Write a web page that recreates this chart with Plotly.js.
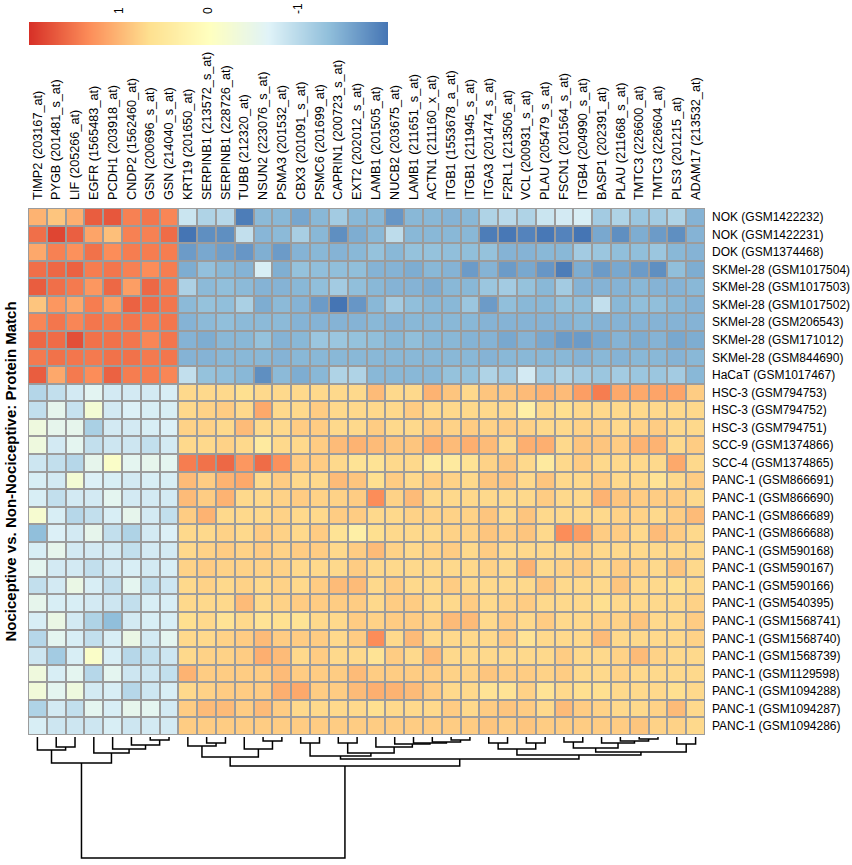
<!DOCTYPE html>
<html><head><meta charset="utf-8">
<script src="https://cdn.plot.ly/plotly-3.0.1.min.js"></script>
<style>html,body{margin:0;padding:0;background:#fff}</style>
</head><body>
<div id="chart" style="width:852px;height:865px"></div>
<script>
// ---- column labels (genes / probes) ----
const genes = ['TIMP2 (203167_at)','PYGB (201481_s_at)','LIF (205266_at)','EGFR (1565483_at)','PCDH1 (203918_at)','CNDP2 (1562460_at)','GSN (200696_s_at)','GSN (214040_s_at)','KRT19 (201650_at)','SERPINB1 (213572_s_at)','SERPINB1 (228726_at)','TUBB (212320_at)','NSUN2 (223076_s_at)','PSMA3 (201532_at)','CBX3 (201091_s_at)','PSMC6 (201699_at)','CAPRIN1 (200723_s_at)','EXT2 (202012_s_at)','LAMB1 (201505_at)','NUCB2 (203675_at)','LAMB1 (211651_s_at)','ACTN1 (211160_x_at)','ITGB1 (1553678_a_at)','ITGB1 (211945_s_at)','ITGA3 (201474_s_at)','F2RL1 (213506_at)','VCL (200931_s_at)','PLAU (205479_s_at)','FSCN1 (201564_s_at)','ITGB4 (204990_s_at)','BASP1 (202391_at)','PLAU (211668_s_at)','TMTC3 (226600_at)','TMTC3 (226604_at)','PLS3 (201215_at)','ADAM17 (213532_at)'];

// ---- row labels (samples) ----
const samples = ['NOK (GSM1422232)','NOK (GSM1422231)','DOK (GSM1374468)','SKMel-28 (GSM1017504)','SKMel-28 (GSM1017503)','SKMel-28 (GSM1017502)','SKMel-28 (GSM206543)','SKMel-28 (GSM171012)','SKMel-28 (GSM844690)','HaCaT (GSM1017467)','HSC-3 (GSM794753)','HSC-3 (GSM794752)','HSC-3 (GSM794751)','SCC-9 (GSM1374866)','SCC-4 (GSM1374865)','PANC-1 (GSM866691)','PANC-1 (GSM866690)','PANC-1 (GSM866689)','PANC-1 (GSM866688)','PANC-1 (GSM590168)','PANC-1 (GSM590167)','PANC-1 (GSM590166)','PANC-1 (GSM540395)','PANC-1 (GSM1568741)','PANC-1 (GSM1568740)','PANC-1 (GSM1568739)','PANC-1 (GSM1129598)','PANC-1 (GSM1094288)','PANC-1 (GSM1094287)','PANC-1 (GSM1094286)'];

// ---- values per sample (one row each, in gene order) ----
const NOK_GSM1422232 = [1.03,0.88,1.06,1.68,1.72,1.42,1.5,1.38,-0.85,-1.08,-1.02,-1.93,-1.38,-1.4,-1.56,-1.4,-1.18,-1.4,-1.4,-1.7,-1.4,-1.4,-1.44,-1.4,-1.08,-1.0,-1.08,-0.85,-0.78,-0.73,-1.18,-1.08,-1.25,-1.18,-1.08,-1.44];
const NOK_GSM1422231 = [1.55,1.85,1.66,1.15,0.93,1.42,1.42,1.57,-2.0,-1.77,-1.77,-0.92,-1.41,-1.38,-1.14,-1.4,-1.77,-1.5,-1.4,-0.96,-1.4,-1.4,-1.4,-1.4,-1.93,-1.97,-1.87,-1.97,-1.87,-2.0,-1.54,-1.77,-1.5,-1.66,-1.77,-1.44];
const DOK_GSM1374468 = [1.12,1.42,1.3,1.53,1.33,1.45,1.45,1.45,-1.66,-1.54,-1.62,-1.7,-1.48,-1.66,-1.44,-1.4,-1.44,-1.4,-1.3,-1.4,-1.3,-1.3,-1.33,-1.33,-1.3,-1.44,-1.44,-1.4,-1.4,-1.18,-1.25,-1.33,-1.33,-1.25,-1.4,-1.44];
const SKMel28_GSM1017504 = [1.55,1.6,1.64,1.45,1.5,1.42,1.33,1.45,-1.5,-1.32,-1.4,-1.44,-0.73,-1.48,-1.3,-1.33,-1.33,-1.33,-1.44,-1.44,-1.5,-1.4,-1.44,-1.66,-1.44,-1.66,-1.54,-1.7,-1.93,-1.5,-1.66,-1.54,-1.66,-1.77,-1.33,-1.5];
const SKMel28_GSM1017503 = [1.68,1.55,1.47,1.25,1.6,1.2,1.6,1.47,-1.1,-1.38,-1.33,-1.38,-1.44,-1.44,-1.4,-1.33,-1.18,-1.33,-1.4,-1.44,-1.44,-1.5,-1.4,-1.4,-1.25,-1.18,-1.3,-1.4,-1.18,-1.44,-1.44,-1.44,-1.4,-1.44,-1.44,-1.4];
const SKMel28_GSM1017502 = [0.88,1.25,1.12,1.45,1.2,1.64,1.57,1.5,-1.38,-1.3,-1.33,-1.12,-1.5,-1.38,-1.44,-1.66,-2.0,-1.7,-1.4,-1.18,-1.33,-1.4,-1.4,-1.25,-1.66,-1.33,-1.4,-1.4,-1.3,-1.33,-0.92,-1.4,-1.33,-1.33,-1.4,-1.44];
const SKMel28_GSM206543 = [1.38,1.5,1.38,1.5,1.47,1.5,1.45,1.5,-1.44,-1.38,-1.33,-1.38,-1.38,-1.38,-1.44,-1.44,-1.44,-1.44,-1.4,-1.44,-1.4,-1.4,-1.4,-1.4,-1.44,-1.44,-1.44,-1.44,-1.44,-1.4,-1.44,-1.44,-1.44,-1.44,-1.44,-1.44];
const SKMel28_GSM171012 = [1.6,1.57,1.78,1.53,1.53,1.5,1.38,1.5,-1.44,-1.5,-1.4,-1.4,-1.3,-1.44,-1.4,-1.25,-1.25,-1.3,-1.33,-1.4,-1.33,-1.4,-1.4,-1.44,-1.44,-1.54,-1.44,-1.54,-1.66,-1.66,-1.54,-1.44,-1.5,-1.44,-1.54,-1.5];
const SKMel28_GSM844690 = [1.47,1.53,1.5,1.47,1.53,1.53,1.47,1.5,-1.44,-1.44,-1.4,-1.4,-1.4,-1.44,-1.4,-1.4,-1.4,-1.4,-1.4,-1.4,-1.4,-1.4,-1.4,-1.4,-1.44,-1.4,-1.4,-1.4,-1.4,-1.44,-1.4,-1.44,-1.4,-1.4,-1.44,-1.4];
const HaCaT_GSM1017467 = [1.68,1.12,1.47,1.33,1.64,1.45,1.45,1.38,-0.92,-1.3,-1.33,-1.4,-1.77,-1.38,-1.5,-1.4,-1.08,-1.08,-1.4,-1.4,-1.4,-1.4,-1.3,-1.3,-1.08,-1.18,-0.78,-1.18,-1.08,-1.18,-1.25,-1.18,-1.25,-1.25,-1.18,-1.4];
const HSC3_GSM794753 = [-1.04,-0.92,-0.78,-0.6,-0.78,-0.78,-0.78,-0.73,0.72,0.72,0.72,0.67,0.72,0.72,0.72,0.72,0.72,0.72,0.96,0.72,0.72,1.03,0.88,0.72,0.88,0.88,0.96,1.03,0.96,1.2,1.45,1.11,1.11,1.15,1.15,0.83];
const HSC3_GSM794752 = [-0.92,-0.53,-0.88,-0.25,-0.78,-0.7,-0.73,-0.73,0.72,0.78,0.83,0.72,1.11,0.72,0.72,0.83,0.72,0.72,0.72,0.72,0.83,0.72,0.72,0.72,0.72,0.72,0.35,0.72,0.67,0.72,0.72,0.72,0.72,0.72,0.72,0.72];
const HSC3_GSM794751 = [-0.36,-0.53,-0.53,-1.12,-0.78,-0.78,-0.73,-0.7,0.78,0.78,0.72,0.96,0.72,0.72,0.83,0.83,0.72,0.72,0.83,0.72,0.72,0.83,0.78,0.83,0.78,0.83,0.78,0.72,0.72,0.78,0.78,0.72,0.78,0.83,0.72,0.72];
const SCC9_GSM1374866 = [-0.36,-0.78,-0.57,-0.92,-0.83,-0.83,-0.92,-0.78,0.72,0.72,0.78,0.72,0.45,0.72,0.72,0.83,0.96,1.03,0.96,0.88,0.88,1.06,0.96,1.06,0.96,0.72,1.06,1.06,0.72,0.88,0.88,0.83,1.03,1.03,0.72,0.83];
const SCC4_GSM1374865 = [-0.83,-0.92,-1.02,-0.53,-0.1,-0.57,-0.53,-0.57,1.45,1.53,1.6,1.25,1.57,1.3,0.83,0.83,0.72,0.6,0.6,0.72,0.72,0.45,0.45,0.6,0.78,0.88,0.72,0.45,0.72,0.83,0.72,0.72,0.72,0.72,1.11,0.72];
const PANC1_GSM866691 = [-0.73,-0.78,-0.25,-0.7,-0.73,-0.78,-0.73,-0.73,0.96,0.83,1.03,1.11,0.72,0.83,0.72,0.72,0.96,0.88,0.67,0.83,0.72,0.83,0.78,0.72,0.88,0.88,0.72,0.88,0.72,0.72,0.83,0.72,0.72,0.6,0.72,0.83];
const PANC1_GSM866690 = [-0.73,-0.92,-0.78,-0.78,-0.57,-0.78,-0.78,-0.78,0.96,0.83,1.03,0.72,0.72,0.78,0.83,0.78,0.78,0.83,1.33,0.78,0.96,0.72,0.72,0.72,0.72,0.72,0.72,0.83,0.72,0.72,1.03,0.88,0.83,0.83,0.83,0.72];
const PANC1_GSM866689 = [-0.2,-0.73,-1.02,-0.92,-0.73,-0.53,-0.78,-0.92,0.83,1.03,0.72,0.72,0.72,0.78,0.72,0.72,0.83,0.83,0.72,0.72,0.78,0.78,0.78,0.78,0.88,0.72,0.88,0.72,0.72,0.72,0.72,0.78,0.78,0.72,0.83,0.96];
const PANC1_GSM866688 = [-1.33,-0.7,-0.78,-0.53,-0.92,-1.08,-0.78,-0.7,0.72,0.72,0.78,0.72,0.83,0.78,0.72,0.83,0.6,0.35,0.67,0.72,0.72,0.72,0.78,0.78,0.88,0.83,0.88,0.72,1.33,1.2,0.83,0.83,0.72,0.96,0.83,0.72];
const PANC1_GSM590168 = [-0.73,-0.53,-0.78,-0.78,-0.78,-0.92,-0.78,-0.78,0.72,0.78,0.83,0.78,0.83,0.78,0.83,0.83,0.72,0.83,0.96,0.78,0.72,0.78,0.83,0.72,0.83,0.72,0.72,0.72,0.72,0.78,0.72,0.72,0.72,0.72,0.72,0.72];
const PANC1_GSM590167 = [-0.57,-0.78,-0.78,-0.92,-0.78,-0.73,-0.78,-0.73,0.78,0.83,0.78,0.78,0.78,0.78,0.72,0.72,0.72,0.83,0.72,0.72,0.72,0.72,0.72,0.72,0.78,0.72,1.03,0.72,0.78,0.83,0.72,0.83,0.78,0.72,0.88,0.72];
const PANC1_GSM590166 = [-0.92,-0.78,-0.45,-0.73,-0.92,-0.57,-0.92,-0.83,0.72,0.78,0.72,0.78,0.72,0.78,0.72,0.83,0.96,0.96,0.72,0.83,0.72,0.72,0.83,0.72,0.72,0.72,0.72,0.88,0.72,0.72,0.72,0.88,0.72,0.72,0.67,0.72];
const PANC1_GSM540395 = [-0.53,-0.73,-0.73,-0.78,-0.83,-0.92,-0.73,-0.73,0.72,0.72,0.72,0.96,0.72,0.78,0.83,0.83,0.83,0.83,0.72,0.83,0.83,0.72,0.72,0.83,0.72,0.78,0.83,0.72,0.72,0.72,0.67,0.72,0.72,0.72,0.72,0.78];
const PANC1_GSM1568741 = [-0.73,-0.45,-0.78,-1.08,-1.33,-0.78,-0.73,-0.73,0.67,0.72,0.6,0.72,0.6,0.65,0.6,0.72,0.72,0.83,0.78,0.83,0.83,0.78,0.96,0.96,0.72,0.83,0.72,0.83,0.72,0.72,0.78,0.78,0.88,0.72,0.72,0.83];
const PANC1_GSM1568740 = [-1.02,-0.57,-0.73,-0.92,-0.73,-0.45,-0.78,-0.57,0.72,0.72,0.78,0.83,0.96,0.83,0.83,0.83,0.72,0.83,1.33,0.72,0.96,0.72,0.72,0.72,0.72,0.83,0.6,0.72,0.72,0.72,0.96,0.72,0.72,0.72,0.72,0.78];
const PANC1_GSM1568739 = [-0.83,-1.18,-0.73,-0.1,-0.73,-1.02,-0.92,-0.83,0.72,0.78,0.78,0.83,1.06,0.96,0.72,0.83,0.72,0.72,0.6,0.83,0.72,0.96,0.72,0.72,0.72,0.72,0.72,0.72,0.83,0.72,0.72,0.78,0.96,0.78,0.72,0.72];
const PANC1_GSM1129598 = [-0.35,-0.73,-0.57,-1.02,-0.57,-0.83,-0.83,-0.92,1.03,0.83,0.83,0.83,0.83,0.96,0.83,0.83,0.83,0.96,0.83,0.83,0.83,0.83,0.78,0.78,0.88,0.83,0.83,0.78,0.83,0.72,0.72,0.78,0.72,0.72,0.72,0.72];
const PANC1_GSM1094288 = [-0.3,-0.57,-0.36,-0.78,-0.73,-1.02,-0.83,-0.73,0.72,0.78,0.83,0.83,0.83,1.06,1.11,0.83,0.83,0.96,1.06,1.03,0.96,0.83,0.72,0.72,0.6,0.6,0.78,0.6,0.72,0.67,0.67,0.72,0.72,0.72,0.67,0.72];
const PANC1_GSM1094287 = [-1.08,-0.78,-0.92,-0.57,-0.73,-0.53,-0.57,-0.78,0.83,0.96,0.96,0.83,0.96,0.83,0.72,0.72,0.72,0.72,0.67,0.72,0.72,0.72,0.83,0.72,0.83,0.88,0.83,0.72,0.96,0.83,0.78,0.72,0.72,0.78,0.96,0.72];
const PANC1_GSM1094286 = [-0.73,-0.83,-0.83,-0.83,-0.73,-0.83,-0.78,-0.78,0.83,0.83,0.83,0.83,0.83,0.83,0.83,0.83,0.83,0.83,0.83,0.83,0.83,0.83,0.83,0.83,0.88,0.83,0.88,0.83,0.83,0.83,0.83,0.83,0.88,0.78,0.78,0.72];

// ---- column dendrogram (hclust style: negative = leaf -(col+1), positive = earlier merge, 1-based) ----
const mergeLeft   = [-2,-1,-7,-6,-5,-4, 2, -10,-9,-13,-12, 9, -15,-17,-23,-22,-21,-20,-19, 14, 13, -25,-27, 22, -29,-33,-32,-31, 25,-35, 29, 24, 21, 12, 7];
const mergeRight  = [-3, 1,-8, 3, 4, 5, 6, -11, 8,-14, 10,11, -16,-18,-24, 15, 16, 17, 18, 19, 20, -26,-28, 23, -30,-34, 26, 27, 28,-36, 30, 31, 32, 33, 34];
const mergeHeight = [10,13, 3, 8,12,16,26,   6, 9,  4, 12,20,   6,  6,  3,  5,  6,  7, 10, 16, 19,   6,  6, 12,   5,  2,  4,  6, 11,  7, 15, 18, 22, 29,121];

// ---- colour key ----
const keyValues = [2, 1, 0, -1, -2];
const keyTickVals = [1, 0, -1];
const keyTickText = ['1', '0', '-1'];

const z = [NOK_GSM1422232, NOK_GSM1422231, DOK_GSM1374468, SKMel28_GSM1017504, SKMel28_GSM1017503, SKMel28_GSM1017502, SKMel28_GSM206543, SKMel28_GSM171012, SKMel28_GSM844690, HaCaT_GSM1017467, HSC3_GSM794753, HSC3_GSM794752, HSC3_GSM794751, SCC9_GSM1374866, SCC4_GSM1374865, PANC1_GSM866691, PANC1_GSM866690, PANC1_GSM866689, PANC1_GSM866688, PANC1_GSM590168, PANC1_GSM590167, PANC1_GSM590166, PANC1_GSM540395, PANC1_GSM1568741, PANC1_GSM1568740, PANC1_GSM1568739, PANC1_GSM1129598, PANC1_GSM1094288, PANC1_GSM1094287, PANC1_GSM1094286];

const W = 852, H = 865;
const colorscale = [[0,'#4575B4'],[1/6,'#91BFDB'],[2/6,'#E0F3F8'],[0.5,'#FFFFBF'],[4/6,'#FEE090'],[5/6,'#FC8D59'],[1,'#D73027']];
const FONT = 'Liberation Sans, Arial, Helvetica, sans-serif';
const colIdx = genes.map((g, i) => i);
const rowIdx = samples.map((s, i) => i);

// dendrogram segments
const nodeX = [], nodeH = [];
function pos(id) { return id < 0 ? [-id - 1, 0] : [nodeX[id - 1], nodeH[id - 1]]; }
const dx = [], dy = [];
for (let i = 0; i < mergeLeft.length; i++) {
  const [x1, h1] = pos(mergeLeft[i]);
  const [x2, h2] = pos(mergeRight[i]);
  const h = mergeHeight[i];
  dx.push(x1, x1, x2, x2, null);
  dy.push(h1, h, h, h2, null);
  nodeX.push((x1 + x2) / 2);
  nodeH.push(h);
}

const px = v => v / W, py = v => 1 - v / H;

const traces = [
  { type: 'heatmap', z: z, x: colIdx, y: rowIdx, colorscale: colorscale, zmin: -2, zmax: 2,
    xgap: 2, ygap: 2, showscale: false, xaxis: 'x', yaxis: 'y', hoverinfo: 'skip' },
  { type: 'heatmap', z: [keyValues, keyValues], x: keyValues, y: [0, 1], colorscale: colorscale,
    zmin: -2, zmax: 2, zsmooth: 'best', showscale: false, xaxis: 'x2', yaxis: 'y2', hoverinfo: 'skip' },
  { type: 'scatter', mode: 'lines', x: dx, y: dy, xaxis: 'x3', yaxis: 'y3',
    line: { color: '#000', width: 1.5 }, hoverinfo: 'skip', showlegend: false }
];

const layout = {
  width: W, height: H, margin: { l: 0, r: 0, t: 0, b: 0 },
  paper_bgcolor: '#fff', plot_bgcolor: 'rgba(0,0,0,0)', showlegend: false,
  font: { family: FONT, color: '#000' },
  xaxis: { domain: [px(28), px(705)], range: [-0.5, 35.5], side: 'top', anchor: 'y',
    tickmode: 'array', tickvals: colIdx, ticktext: genes, tickangle: -90, ticks: '',
    ticklabelstandoff: 7, showgrid: false, zeroline: false, showline: false,
    tickfont: { size: 12.7, family: FONT, color: '#000' } },
  yaxis: { domain: [py(735), py(208)], range: [29.5, -0.5], side: 'right', anchor: 'x',
    tickmode: 'array', tickvals: rowIdx, ticktext: samples, ticks: '',
    ticklabelstandoff: 6, showgrid: false, zeroline: false, showline: false,
    tickfont: { size: 12, family: FONT, color: '#000' } },
  xaxis2: { domain: [px(29), px(388)], range: [2, -2], side: 'top', anchor: 'y2',
    tickmode: 'array', tickvals: keyTickVals, ticktext: keyTickText, tickangle: -90, ticks: '',
    ticklabelstandoff: 7, showgrid: false, zeroline: false, showline: false,
    tickfont: { size: 12, family: FONT, color: '#000' } },
  yaxis2: { domain: [py(45), py(22)], range: [0, 1], anchor: 'x2', visible: false },
  xaxis3: { domain: [px(28), px(705)], range: [-0.5, 35.5], anchor: 'y3', visible: false },
  yaxis3: { domain: [py(863), py(737)], range: [126, 0], anchor: 'x3', visible: false },
  shapes: [
    { type: 'rect', xref: 'x', yref: 'y', x0: -0.5, x1: 35.5, y0: -0.5, y1: 29.5,
      fillcolor: '#9c9c9c', line: { width: 0 }, layer: 'below' },
    { type: 'rect', xref: 'x', yref: 'y', x0: -0.5, x1: 35.5, y0: -0.5, y1: 29.5,
      fillcolor: 'rgba(0,0,0,0)', line: { color: '#9c9c9c', width: 2 }, layer: 'above' }
  ],
  annotations: [
    { text: '<b>Nociceptive vs. Non-Nociceptive: Protein Match</b>', xref: 'paper', yref: 'paper',
      x: px(10), y: py(471.5), textangle: -90, showarrow: false, xanchor: 'center', yanchor: 'middle',
      font: { size: 15, family: FONT, color: '#000' } }
  ]
};

Plotly.newPlot('chart', traces, layout, { staticPlot: true, displayModeBar: false });
</script>
</body></html>
